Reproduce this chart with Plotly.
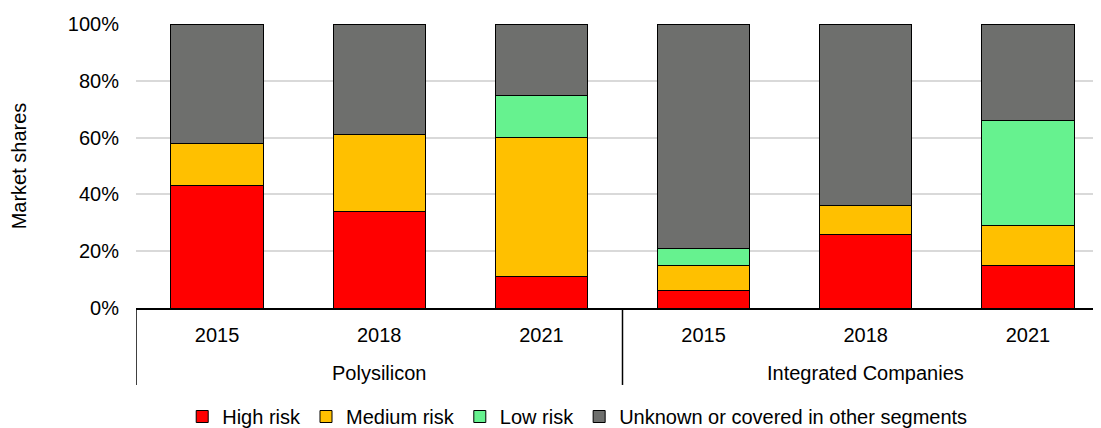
import plotly.graph_objects as go

# categories
group_names = ["Polysilicon", "Integrated Companies"]
years = ["2015", "2018", "2021", "2015", "2018", "2021"]
groups = [group_names[0]] * 3 + [group_names[1]] * 3

# market shares in %
high_risk = [43, 34, 11, 6, 26, 15]
medium_risk = [15, 27, 49, 9, 10, 14]
low_risk = [0, 0, 15, 6, 0, 37]
unknown = [42, 39, 25, 79, 64, 34]

series = [
    ("High risk", high_risk, "#FF0000"),
    ("Medium risk", medium_risk, "#FFC000"),
    ("Low risk", low_risk, "#66F28F"),
    ("Unknown or covered in other segments", unknown, "#6E6F6D"),
]

pos = list(range(len(years)))

fig = go.Figure()
for name, vals, color in series:
    fig.add_trace(go.Bar(
        x=pos,
        y=vals,
        name=name,
        marker=dict(color=color, line=dict(color="black", width=1)),
        width=0.57,
    ))

# group labels and divider lines under the axis
for g in group_names:
    idx = [i for i, name in enumerate(groups) if name == g]
    fig.add_annotation(
        x=sum(idx) / len(idx), xref="x",
        y=-0.229, yref="paper",
        text=g, showarrow=False,
        font=dict(size=20), yanchor="middle",
    )
bounds = [-0.5] + [i + 0.5 for i in range(len(groups) - 1) if groups[i] != groups[i + 1]] + [len(groups) - 0.5]
for b in bounds:
    fig.add_shape(
        type="line", xref="x", yref="paper",
        x0=b, x1=b, y0=0, y1=-0.271,
        line=dict(color="black", width=1.5),
    )

fig.update_xaxes(
    showline=True,
    linewidth=1.5,
    linecolor="black",
    tickvals=pos,
    ticktext=years,
    ticks="",
    showgrid=False,
    zeroline=False,
    range=[-0.5, 5.5],
    ticklabelstandoff=8,
    tickfont=dict(size=20),
)
fig.update_yaxes(
    range=[0, 100],
    dtick=20,
    ticksuffix="%",
    showgrid=True,
    gridcolor="#d9d9d9",
    gridwidth=1.5,
    zeroline=False,
    ticklabelstandoff=16,
    title_text="Market shares",
    title_standoff=36,
    tickfont=dict(size=20),
    title_font=dict(size=20),
)

fig.update_layout(
    barmode="stack",
    width=1101,
    height=428,
    margin=dict(l=128, r=0, t=16, b=128),
    plot_bgcolor="white",
    paper_bgcolor="white",
    font=dict(family="Liberation Sans, Arial, sans-serif", color="black", size=20),
    legend=dict(
        orientation="h",
        xref="container",
        x=0.517,
        xanchor="center",
        yref="container",
        y=0.0,
        yanchor="bottom",
        font=dict(size=20),
        itemwidth=30,
        traceorder="normal",
    ),
)

fig.write_html("out.html")
